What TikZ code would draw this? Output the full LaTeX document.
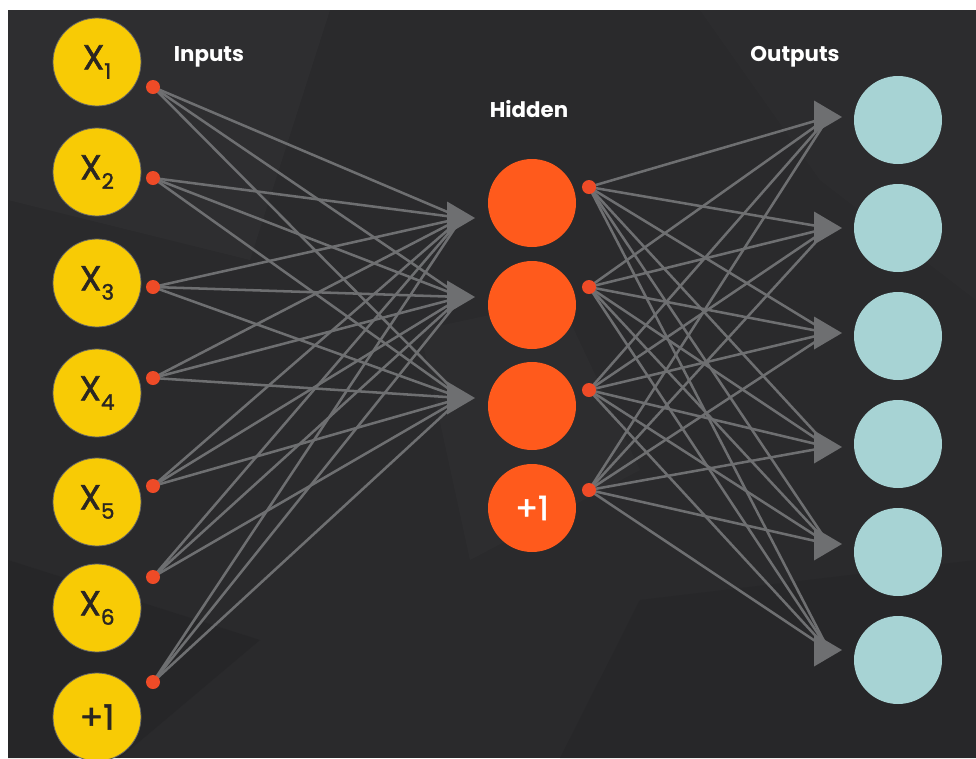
\documentclass[tikz,border=0pt]{standalone}
\usepackage{fontspec}
\setmainfont{Poppins}
\newfontfamily\labfont{Poppins}[FakeBold=1.6]
\definecolor{page}{HTML}{FFFFFF}
\definecolor{bg}{HTML}{2A2A2C}
\definecolor{bglight}{HTML}{313133}
\definecolor{bgdark}{HTML}{252527}
\definecolor{inyellow}{HTML}{F8CB05}
\definecolor{hidorange}{HTML}{FF5A1C}
\definecolor{dotred}{HTML}{EE4B27}
\definecolor{outteal}{HTML}{A7D3D4}
\definecolor{linkgray}{HTML}{6E6F71}
\definecolor{labeldark}{HTML}{2A2622}
\tikzset{
  unit/.style={circle, inner sep=0pt, minimum size=66pt},
  inunit/.style={unit, fill=inyellow, draw=black!60, line width=0.6pt},
  hidunit/.style={unit, fill=hidorange},
  outunit/.style={unit, fill=outteal},
  port/.style={circle, fill=dotred, inner sep=0pt, minimum size=10.5pt},
  link/.style={draw=linkgray, line width=1.9pt},
  head/.style={fill=linkgray},
  title/.style={text=white, font=\bfseries\fontsize{16}{16}\selectfont},
  xlab/.style={text=labeldark, font=\labfont\fontsize{26}{26}\selectfont},
}
\newcommand{\xsub}[1]{X\raisebox{-7pt}{\fontsize{16}{16}\selectfont #1}}
\begin{document}
\begin{tikzpicture}[x=0.75pt, y=-0.75pt]
  % canvas and dark panel
  \fill[page] (0,0) rectangle (976,758);
  \fill[bg] (8,10) rectangle (976,758);
  \useasboundingbox (0,0) rectangle (976,758);

  % faint low-poly texture
  \fill[bglight, opacity=0.6] (8,10) -- (330,10) -- (250,260) -- (8,200) -- cycle;
  \fill[bglight, opacity=0.5] (420,330) -- (560,300) -- (640,470) -- (470,560) -- cycle;
  \fill[bgdark, opacity=0.7] (8,560) -- (260,640) -- (120,758) -- (8,758) -- cycle;
  \fill[bgdark, opacity=0.6] (640,600) -- (976,560) -- (976,758) -- (560,758) -- cycle;
  \fill[bglight, opacity=0.4] (700,10) -- (976,10) -- (976,300) -- (820,180) -- cycle;

  % input units
  \node[inunit, xlab] (x1) at (97,62)  {\xsub{1}};
  \node[inunit, xlab] (x2) at (97,172) {\xsub{2}};
  \node[inunit, xlab] (x3) at (97,283) {\xsub{3}};
  \node[inunit, xlab] (x4) at (97,393) {\xsub{4}};
  \node[inunit, xlab] (x5) at (97,502) {\xsub{5}};
  \node[inunit, xlab] (x6) at (97,608) {\xsub{6}};
  \node[inunit, xlab] (xb) at (97,717) {+1};

  % hidden units
  \node[hidunit] (h1) at (532,203) {};
  \node[hidunit] (h2) at (532,305) {};
  \node[hidunit] (h3) at (532,406) {};
  \node[hidunit, text=white, font=\labfont\fontsize{25}{25}\selectfont] (hb) at (532,508) {+1};

  % output units
  \foreach \i/\y in {1/120,2/228,3/336,4/444,5/552,6/660}
    \node[outunit] (o\i) at (898,\y) {};

  % layer titles
  \node[title] (tin)  at (209,57)  {Inputs};
  \node[title] (thid) at (529,109) {Hidden};
  \node[title] (tout) at (795,57)  {Outputs};

  % output ports of the input layer
  \foreach \i/\y in {1/87,2/178,3/287,4/378,5/486,6/577,7/682}
    \coordinate (ip\i) at (153,\y);
  % output ports of the hidden layer
  \foreach \i/\y in {1/187,2/287,3/390,4/490}
    \coordinate (hp\i) at (589,\y);
  % arrow tips in front of hidden units
  \foreach \j/\y in {1/218,2/297,3/398}
    \coordinate (ht\j) at (475,\y);
  % arrow tips in front of output units
  \foreach \j/\y in {1/117,2/228,3/333,4/447,5/544,6/650}
    \coordinate (ot\j) at (842,\y);
  % points where the links meet, inside each arrowhead
  \foreach \j in {1,2,3}
    \coordinate (hm\j) at ([xshift=-10pt]ht\j);
  \foreach \j in {1,...,6}
    \coordinate (om\j) at ([xshift=-10pt]ot\j);

  % links input -> hidden
  \foreach \i in {1,...,7}
    \foreach \j in {1,2,3}
      \draw[link] (ip\i) -- (hm\j);
  % links hidden -> output
  \foreach \i in {1,...,4}
    \foreach \j in {1,...,6}
      \draw[link] (hp\i) -- (om\j);

  % arrowheads
  \foreach \j in {1,2,3}
    \fill[head] (ht\j) -- ++(-28,-16.5) -- ++(0,33) -- cycle;
  \foreach \j in {1,...,6}
    \fill[head] (ot\j) -- ++(-28,-16.5) -- ++(0,33) -- cycle;

  % port dots on top
  \foreach \i in {1,...,7}
    \node[port] (ipd\i) at (ip\i) {};
  \foreach \i in {1,...,4}
    \node[port] (hpd\i) at (hp\i) {};
\end{tikzpicture}
\end{document}
